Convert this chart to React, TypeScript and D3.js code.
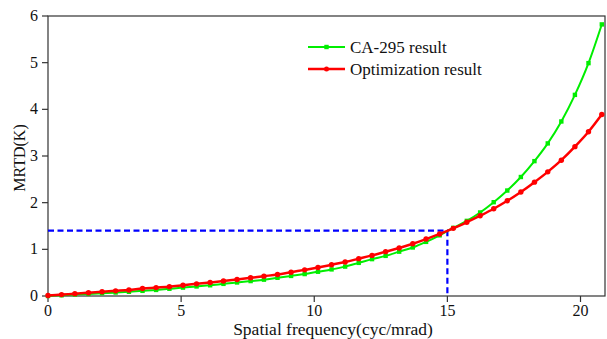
import React from "react";
import * as d3 from "d3";

const freq = [0, 0.51, 1.01, 1.52, 2.03, 2.54, 3.04, 3.55, 4.06, 4.56, 5.07, 5.58, 6.09, 6.59, 7.1, 7.61, 8.11, 8.62, 9.13, 9.64, 10.14, 10.65, 11.16, 11.67, 12.17, 12.68, 13.19, 13.7, 14.2, 14.71, 15.22, 15.73, 16.23, 16.74, 17.25, 17.76, 18.27, 18.77, 19.28, 19.79, 20.3, 20.8];
const caValues = [0.0, 0.015, 0.03, 0.045, 0.06, 0.075, 0.09, 0.11, 0.13, 0.155, 0.18, 0.205, 0.23, 0.26, 0.29, 0.32, 0.35, 0.39, 0.43, 0.47, 0.52, 0.57, 0.63, 0.71, 0.79, 0.86, 0.95, 1.04, 1.16, 1.3, 1.46, 1.61, 1.79, 2.01, 2.26, 2.55, 2.89, 3.27, 3.74, 4.31, 4.99, 5.82];
const optValues = [0.01, 0.03, 0.05, 0.07, 0.09, 0.11, 0.13, 0.16, 0.18, 0.2, 0.23, 0.26, 0.29, 0.32, 0.355, 0.39, 0.425, 0.46, 0.51, 0.56, 0.61, 0.67, 0.73, 0.8, 0.87, 0.95, 1.03, 1.12, 1.22, 1.33, 1.45, 1.58, 1.72, 1.87, 2.04, 2.23, 2.44, 2.66, 2.91, 3.2, 3.52, 3.89];
const xTicks = [0, 5, 10, 15, 20];
const yTicks = [0, 1, 2, 3, 4, 5, 6];
const seriesNames = ["CA-295 result", "Optimization result"];
const markX = 15;
const markY = 1.4;

export default function App() {
  const W = 607, H = 339;
  const L = 48, R = 605, T = 16, B = 296;
  const x = d3.scaleLinear().domain([0, 20.92]).range([L, R]);
  const y = d3.scaleLinear().domain([0, 6]).range([B, T]);
  const line = d3
    .line<number>()
    .x((_, i) => x(freq[i]))
    .y((d) => y(d))
    .curve(d3.curveMonotoneX);
  const font = "'Liberation Serif', 'Times New Roman', serif";
  const green = "#00ee00";
  const red = "#ff0000";
  return (
    <svg width={W} height={H} style={{ position: "absolute", left: 0, top: 0 }} fontFamily={font}>
      <rect x={0} y={0} width={W} height={H} fill="#fff" />
      <rect x={L} y={T} width={R - L} height={B - T} fill="none" stroke="#333" strokeWidth={1.2} />
      {xTicks.map((t) => (
        <g key={"x" + t}>
          <line x1={x(t)} x2={x(t)} y1={B} y2={B + 6} stroke="#333" strokeWidth={1.2} />
          <text x={x(t)} y={316} textAnchor="middle" fontSize={16} fill="#111">
            {t}
          </text>
        </g>
      ))}
      {yTicks.map((t) => (
        <g key={"y" + t}>
          <line x1={L - 6} x2={L} y1={y(t)} y2={y(t)} stroke="#333" strokeWidth={1.2} />
          <text x={38} y={y(t) + 5} textAnchor="end" fontSize={16} fill="#111">
            {t}
          </text>
        </g>
      ))}
      <text x={333} y={335} textAnchor="middle" fontSize={17.5} fill="#111">
        Spatial frequency(cyc/mrad)
      </text>
      <text
        transform={`translate(${25},${158}) rotate(-90)`}
        textAnchor="middle"
        fontSize={16}
        fill="#111"
      >
        MRTD(K)
      </text>
      <path
        d={`M${x(0)},${y(markY)}H${x(markX)}V${y(0)}`}
        fill="none"
        stroke="#0000ff"
        strokeWidth={2.2}
        strokeDasharray="6,3.5"
      />
      <path d={line(caValues) || ""} fill="none" stroke={green} strokeWidth={2} />
      {caValues.map((v, i) => (
        <rect key={"g" + i} x={x(freq[i]) - 2.2} y={y(v) - 2.2} width={4.4} height={4.4} fill={green} />
      ))}
      <path d={line(optValues) || ""} fill="none" stroke={red} strokeWidth={2.5} />
      {optValues.map((v, i) => (
        <circle key={"r" + i} cx={x(freq[i])} cy={y(v)} r={2.7} fill={red} />
      ))}
      <g>
        <line x1={308} x2={345} y1={47} y2={47} stroke={green} strokeWidth={2} />
        <rect x={326.5 - 2.2} y={47 - 2.2} width={4.4} height={4.4} fill={green} />
        <text x={350} y={53} fontSize={17} fill="#111">
          {seriesNames[0]}
        </text>
        <line x1={308} x2={345} y1={69} y2={69} stroke={red} strokeWidth={2.5} />
        <circle cx={326.5} cy={69} r={2.5} fill={red} />
        <text x={350} y={75} fontSize={17} fill="#111">
          {seriesNames[1]}
        </text>
      </g>
    </svg>
  );
}
